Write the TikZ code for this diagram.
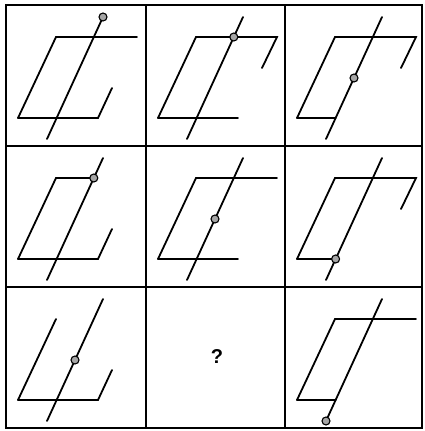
\documentclass[tikz,border=0pt]{standalone}
\usepackage{fontspec}
\setmainfont{Liberation Sans}
\begin{document}
\begin{tikzpicture}[x=1pt,y=-1pt,
  ln/.style={line width=1.8pt, line cap=round, line join=miter},
  grid/.style={line width=1.7pt},
  dotc/.style={circle, draw=black, fill=gray!70, line width=1.1pt, minimum size=8pt, inner sep=0pt}]
\useasboundingbox (0,0) rectangle (425,431);
% grid
\draw[grid] (6,5) rectangle (422,428);
\draw[grid] (146,5) -- (146,428);
\draw[grid] (285,5) -- (285,428);
\draw[grid] (6,146) -- (422,146);
\draw[grid] (6,287) -- (422,287);
\def\cellshape#1#2#3#4#5#6{%
 % #1 ox, #2 oy, #3 top (0 none,1 to crossing,2 full,3 full+hook), #4 bottom (1 to crossing,2 full,3 full+hook), #5 dot (0 top end,1 top crossing,2 middle,3 bottom crossing,4 bottom end), #6 id
 \begin{scope}[shift={(#1,#2)}]
  \coordinate (TL) at (50,32);
  \coordinate (TR) at (131,32);
  \coordinate (TH) at (116,63);
  \coordinate (BL) at (12,113);
  \coordinate (BR) at (92,113);
  \coordinate (BH) at (106,83);
  \coordinate (LB) at (41,134);
  \coordinate (LT) at (97,12);
  \coordinate (XT) at (87.8,32);
  \coordinate (XB) at (50.6,113);
  \coordinate (XM) at (69,73);
  \ifcase#3 \draw[ln] (TL) -- (BL);
  \or \draw[ln] (XT) -- (TL) -- (BL);
  \or \draw[ln] (TR) -- (TL) -- (BL);
  \or \draw[ln] (TH) -- (TR) -- (TL) -- (BL);
  \fi
  \ifcase#4
  \or \draw[ln] (BL) -- (XB);
  \or \draw[ln] (BL) -- (BR);
  \or \draw[ln] (BL) -- (BR) -- (BH);
  \fi
  \draw[ln] (LB) -- (LT);
  \ifcase#5 \node[dotc] (d#6) at (LT) {};
  \or \node[dotc] (d#6) at (XT) {};
  \or \node[dotc] (d#6) at (XM) {};
  \or \node[dotc] (d#6) at (XB) {};
  \or \node[dotc] (d#6) at (LB) {};
  \fi
 \end{scope}}
\cellshape{6}{5}{2}{3}{0}{1}
\cellshape{146}{5}{3}{2}{1}{2}
\cellshape{285}{5}{3}{1}{2}{3}
\cellshape{6}{146}{1}{3}{1}{4}
\cellshape{146}{146}{2}{2}{2}{5}
\cellshape{285}{146}{3}{1}{3}{6}
\cellshape{6}{287}{0}{3}{2}{7}
\cellshape{285}{287}{2}{1}{4}{9}
\node[font=\bfseries\fontsize{20}{20}\selectfont, inner sep=0pt] (q) at (217,357) {?};
\end{tikzpicture}
\end{document}
